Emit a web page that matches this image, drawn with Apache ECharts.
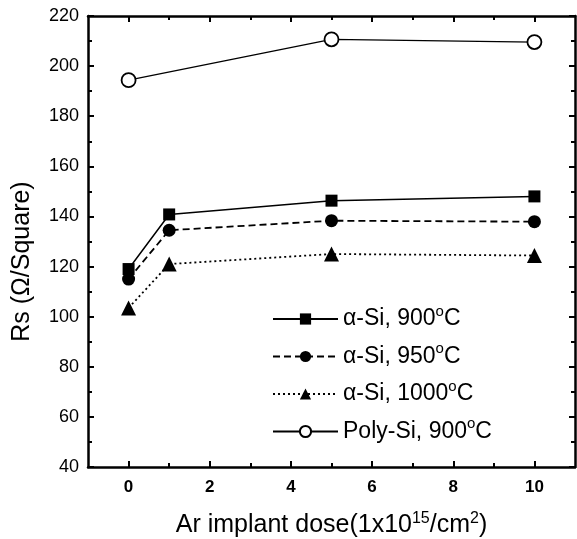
<!DOCTYPE html>
<html>
<head>
<meta charset="utf-8">
<script src="https://cdn.jsdelivr.net/npm/echarts@6/dist/echarts.min.js"></script>
<style>
  html, body { margin: 0; padding: 0; background: #fff; }
  #chart { width: 577px; height: 539px; }
</style>
</head>
<body>
<div id="chart"></div>
<script>
// doses (1e15/cm2)
const dose = [0, 1, 5, 10]
const polyDose = [0, 5, 10]
// sheet resistance, ohm/square
const aSi900 = [119, 140.8, 146.3, 148]
const aSi950 = [115, 134.5, 138.3, 137.9]
const aSi1000 = [103.5, 121, 125, 124.4]
const poly900 = [194.4, 210.7, 209.6]
const seriesNames = ['α-Si, 900°C', 'α-Si, 950°C', 'α-Si, 1000°C', 'Poly-Si, 900°C']
const xTicks = [0, 2, 4, 6, 8, 10]
const xMinorTicks = [1, 3, 5, 7, 9]

const font = 'Liberation Sans, Arial, sans-serif'
const pairs = (xs, ys) => xs.map((x, i) => [x, ys[i]])

const chart = echarts.init(document.getElementById('chart'))

function xAx(pos, opts) {
  return Object.assign({
    type: 'value',
    position: pos,
    min: -1,
    max: 11,
    axisLine: { show: true, onZero: false, lineStyle: { color: '#000', width: 2.5 } },
    splitLine: { show: false },
    axisLabel: { show: false },
    axisTick: { show: true, inside: true, length: 6, lineStyle: { color: '#000', width: 2 }, customValues: xTicks }
  }, opts || {})
}
function xMinor(pos) {
  return {
    type: 'value',
    position: pos,
    min: -1,
    max: 11,
    axisLine: { show: false },
    splitLine: { show: false },
    axisLabel: { show: false },
    axisTick: { show: true, inside: true, length: 4, lineStyle: { color: '#000', width: 2 }, customValues: xMinorTicks }
  }
}
function yAx(pos, opts) {
  return Object.assign({
    type: 'value',
    position: pos,
    min: 40,
    max: 220,
    interval: 20,
    axisLine: { show: true, onZero: false, lineStyle: { color: '#000', width: 2.5 } },
    splitLine: { show: false },
    axisLabel: { show: false },
    axisTick: { show: true, inside: true, length: 6, lineStyle: { color: '#000', width: 2 } },
    minorTick: { show: true, splitNumber: 2, length: 4, lineStyle: { color: '#000', width: 2 } }
  }, opts || {})
}

const option = {
  animation: false,
  backgroundColor: '#fff',
  grid: { left: 88, right: 2, top: 16, bottom: 72, containLabel: false, outerBoundsMode: 'none' },
  legend: {
    orient: 'vertical',
    left: 267,
    top: 299,
    itemGap: 11,
    itemWidth: 65,
    itemHeight: 14,
    data: seriesNames,
    formatter: function (name) {
      return name.replace('°', '{sup|o}')
    },
    textStyle: {
      fontFamily: font,
      fontSize: 23,
      color: '#000',
      rich: {
        sup: { fontFamily: font, fontSize: 15, color: '#000', padding: [0, 0, 15, 0] }
      }
    }
  },
  xAxis: [
    xAx('bottom', {
      name: 'Ar implant dose(1x10{sup|15}/cm{sup|2})',
      nameLocation: 'middle',
      nameGap: 44,
      nameTextStyle: {
        fontFamily: font,
        fontSize: 25,
        color: '#000',
        rich: {
          sup: { fontFamily: font, fontSize: 16, color: '#000', padding: [0, 0, 12, 0] }
        }
      },
      axisLabel: {
        show: true,
        customValues: xTicks,
        margin: 12,
        fontFamily: font,
        fontSize: 17,
        fontWeight: 'bold',
        color: '#000'
      }
    }),
    xAx('top'),
    xMinor('bottom'),
    xMinor('top')
  ],
  yAxis: [
    yAx('left', {
      name: 'Rs (Ω/Square)',
      nameLocation: 'middle',
      nameGap: 53,
      nameTextStyle: { fontFamily: font, fontSize: 25, color: '#000', padding: [0, 40, 0, 0] },
      axisLabel: { show: true, margin: 9, fontFamily: font, fontSize: 18, color: '#000' }
    }),
    yAx('right')
  ],
  series: [
    {
      name: seriesNames[0], type: 'line', data: pairs(dose, aSi900),
      symbol: 'rect', symbolSize: 12, color: '#000',
      lineStyle: { color: '#000', width: 1.5, type: 'solid' },
      itemStyle: { color: '#000' }
    },
    {
      name: seriesNames[1], type: 'line', data: pairs(dose, aSi950),
      symbol: 'circle', symbolSize: 13, color: '#000',
      lineStyle: { color: '#000', width: 1.8, type: [7, 4] },
      itemStyle: { color: '#000' }
    },
    {
      name: seriesNames[2], type: 'line', data: pairs(dose, aSi1000),
      symbol: 'triangle', symbolSize: 15, color: '#000',
      lineStyle: { color: '#000', width: 1.8, type: [2, 3] },
      itemStyle: { color: '#000' }
    },
    {
      name: seriesNames[3], type: 'line', data: pairs(polyDose, poly900),
      symbol: 'circle', symbolSize: 14, color: '#000',
      lineStyle: { color: '#000', width: 1.3, type: 'solid' },
      itemStyle: { color: '#fff', borderColor: '#000', borderWidth: 1.8 }
    }
  ]
}

chart.setOption(option)
</script>
</body>
</html>
